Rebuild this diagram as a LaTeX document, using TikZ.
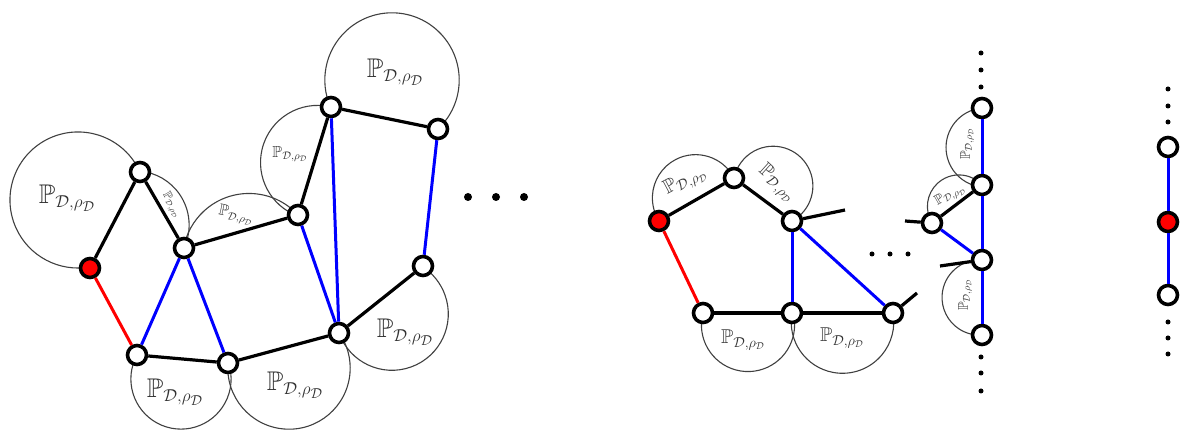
\documentclass[tikz,border=0pt]{standalone}
\usepackage{amssymb}
\usetikzlibrary{calc}
\pgfdeclarelayer{bg}
\pgfsetlayers{bg,main}
\newcommand\plab{$\mathbb{P}_{\mathcal{D},\rho_{\mathcal{D}}}$}
% arc from node #1 counterclockwise to node #2 around centre #3
\newcommand\pdarc[3]{%
  \draw[thinarc] let \p1=($(#1.center)-#3$), \p2=($(#2.center)-#3$),
     \n1={atan2(\y1,\x1)}, \n2={atan2(\y2,\x2)}, \n3={veclen(\x1,\y1)}
   in (#1.center) arc[start angle=\n1, end angle={\n1+mod(\n2-\n1+720,360)}, radius=\n3];}
\tikzset{
  vtx/.style={circle, draw=black, line width=3.6pt, fill=white, minimum size=19pt, inner sep=0pt},
  rvtx/.style={vtx, fill=red},
  bk/.style={draw=black, line width=3.2pt},
  bl/.style={draw=blue, line width=3pt},
  rd/.style={draw=red, line width=3pt},
  thinarc/.style={draw=black!75, line width=1.1pt},
  lab/.style={text=black!80, inner sep=0pt},
  big/.style={lab, font=\fontsize{27}{30}\selectfont},
  mid/.style={lab, font=\fontsize{20}{24}\selectfont},
  sml/.style={lab, font=\fontsize{16}{19}\selectfont},
  tny/.style={lab, font=\fontsize{12}{14}\selectfont},
  dotb/.style={fill=black, circle, inner sep=0pt, minimum size=8pt},
  dots/.style={fill=black, circle, inner sep=0pt, minimum size=5pt},
}
\begin{document}
\begin{tikzpicture}[x=1pt,y=1pt]
\useasboundingbox (0,0) rectangle (1181,430);
% ---------------- left graph ----------------
\node[rvtx] (A) at (90,162) {};
\node[vtx] (B) at (140,258) {};
\node[vtx] (C) at (184,182) {};
\node[vtx] (D) at (298,215) {};
\node[vtx] (E) at (331,323) {};
\node[vtx] (F) at (438,301) {};
\node[vtx] (G) at (423,164) {};
\node[vtx] (H) at (339,97) {};
\node[vtx] (I) at (228,67) {};
\node[vtx] (J) at (137,75) {};
\begin{pgfonlayer}{bg}
\pdarc{B}{A}{(78,230)}
\pdarc{C}{B}{(135,205)}
\pdarc{D}{C}{(249,170)}
\pdarc{E}{D}{(317.6,267.5)}
\pdarc{F}{E}{(392,350)}
\pdarc{H}{G}{(392,116)}
\pdarc{I}{H}{(289,62)}
\pdarc{J}{I}{(181,51)}
\end{pgfonlayer}
\draw[bk] (A) -- (B);
\draw[bk] (B) -- (C);
\draw[bk] (C) -- (D);
\draw[bk] (D) -- (E);
\draw[bk] (E) -- (F);
\draw[bk] (G) -- (H);
\draw[bk] (H) -- (I);
\draw[bk] (I) -- (J);
\draw[rd] (J) -- (A);
\draw[bl] (J) -- (C);
\draw[bl] (C) -- (I);
\draw[bl] (D) -- (H);
\draw[bl] (E) -- (H);
\draw[bl] (F) -- (G);
\node[big] (lAB) at (67,232) {\plab};
\node[tny, rotate=-60] (lBC) at (172,225) {\plab};
\node[sml, rotate=-12] (lCD) at (236,215) {\plab};
\node[sml] (lDE) at (290,276) {\plab};
\node[big] (lEF) at (395,358) {\plab};
\node[big] (lGH) at (405,98) {\plab};
\node[big] (lHI) at (295,45) {\plab};
\node[big] (lIJ) at (175,38) {\plab};
\node[dotb] (d1) at (468,233) {};
\node[dotb] (d2) at (496,233) {};
\node[dotb] (d3) at (524,233) {};
% ---------------- middle graph ----------------
\node[rvtx] (M1) at (659,209) {};
\node[vtx] (M2) at (734,252) {};
\node[vtx] (M3) at (792,209) {};
\node[vtx] (M4) at (703,117) {};
\node[vtx] (M5) at (792,117) {};
\node[vtx] (M6) at (893,117) {};
\coordinate (s3) at (845,220);
\coordinate (s6) at (917,137);
\begin{pgfonlayer}{bg}
\pdarc{M2}{M1}{(695.6,232.1)}
\pdarc{M3}{M2}{(773.1,244)}
\pdarc{M4}{M5}{(748,105)}
\pdarc{M5}{M6}{(842.5,108)}
\end{pgfonlayer}
\draw[bk] (M1) -- (M2);
\draw[bk] (M2) -- (M3);
\draw[rd] (M1) -- (M4);
\draw[bk] (M4) -- (M5);
\draw[bk] (M5) -- (M6);
\draw[bl] (M3) -- (M5);
\draw[bl] (M3) -- (M6);
\draw[bk] (M3) -- (s3);
\draw[bk] (M6) -- (s6);
\node[mid, rotate=28] (lM12) at (685,249) {\plab};
\node[mid, rotate=-42] (lM23) at (777,247) {\plab};
\node[mid] (lM45) at (743,90) {\plab};
\node[mid] (lM56) at (842,92) {\plab};
\node[dots] (e1) at (872,176) {};
\node[dots] (e2) at (890,176) {};
\node[dots] (e3) at (908,176) {};
% ---------------- vertical chain ----------------
\node[vtx] (V1) at (982,322) {};
\node[vtx] (V2) at (982,245) {};
\node[vtx] (V3) at (982,170) {};
\node[vtx] (V4) at (982,95) {};
\node[vtx] (W) at (932,207) {};
\coordinate (sW) at (905,209);
\coordinate (sV) at (940,164);
\begin{pgfonlayer}{bg}
\pdarc{V1}{V2}{(985.7,282.5)}
\pdarc{V2}{W}{(958.9,223.5)}
\pdarc{V3}{V4}{(979.6,132.5)}
\end{pgfonlayer}
\draw[bl] (V1) -- (V2);
\draw[bl] (V2) -- (V3);
\draw[bl] (V3) -- (V4);
\draw[bk] (W) -- (V2);
\draw[bl] (W) -- (V3);
\draw[bk] (W) -- (sW);
\draw[bk] (V3) -- (sV);
\node[sml, font=\fontsize{14}{16}\selectfont, rotate=90] (lV12) at (967,286) {\plab};
\node[sml, font=\fontsize{14}{16}\selectfont, rotate=30] (lVW) at (950,235) {\plab};
\node[sml, font=\fontsize{14}{16}\selectfont, rotate=90] (lV34) at (965,135) {\plab};
\node[dots] (f1) at (981,377) {};
\node[dots] (f2) at (981,360) {};
\node[dots] (f3) at (981,343) {};
\node[dots] (f4) at (981,73) {};
\node[dots] (f5) at (981,57) {};
\node[dots] (f6) at (981,39) {};
% ---------------- right chain ----------------
\node[vtx] (R1) at (1168,283) {};
\node[rvtx] (R2) at (1168,208) {};
\node[vtx] (R3) at (1168,135) {};
\draw[bl] (R1) -- (R2);
\draw[bl] (R2) -- (R3);
\node[dots] (g1) at (1168,341) {};
\node[dots] (g2) at (1168,324) {};
\node[dots] (g3) at (1168,308) {};
\node[dots] (g4) at (1168,108) {};
\node[dots] (g5) at (1168,92) {};
\node[dots] (g6) at (1168,76) {};
\end{tikzpicture}
\end{document}
